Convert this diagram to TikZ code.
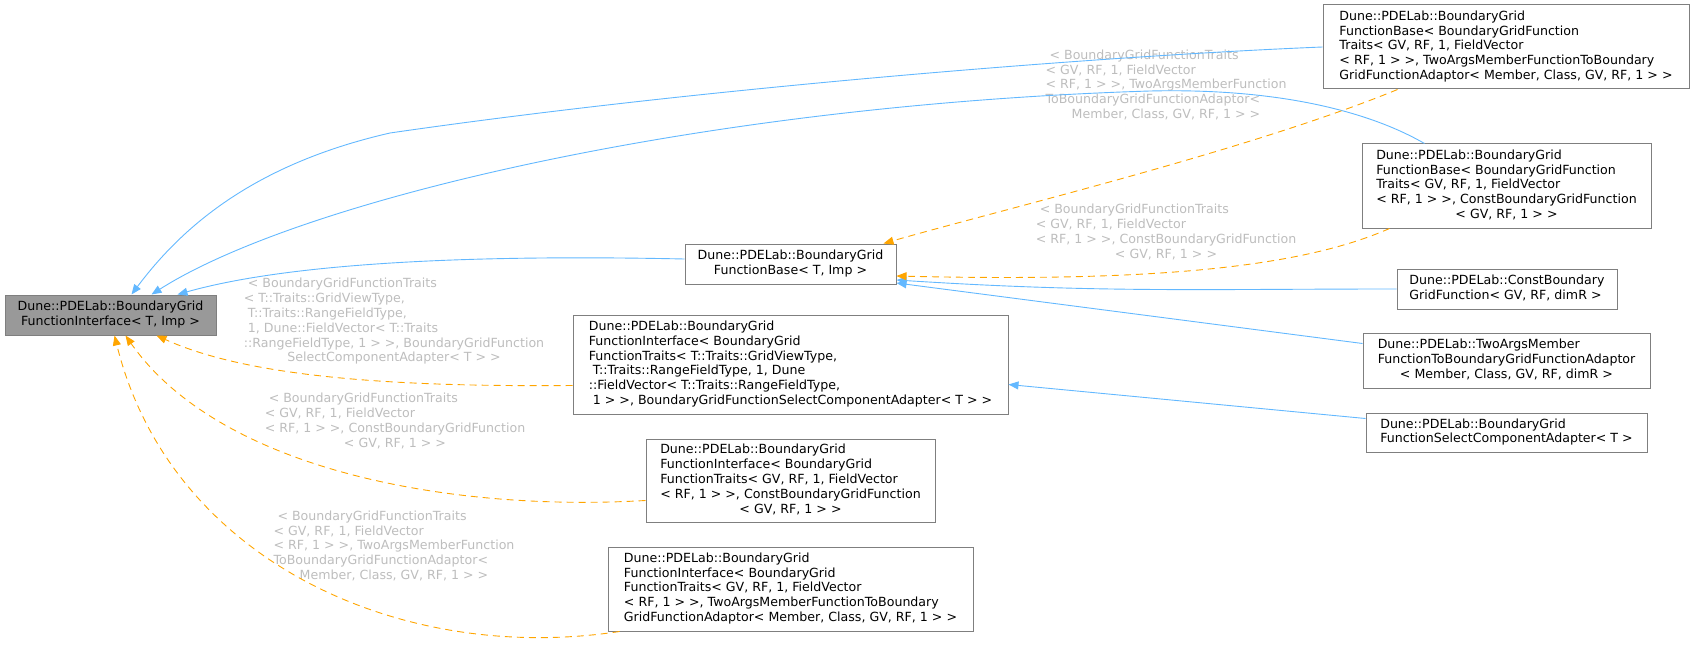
\documentclass[tikz,border=0pt]{standalone}
\usepackage{fontspec}
\setmainfont{DejaVu Sans}
\usetikzlibrary{arrows.meta,calc}
\definecolor{edgeblue}{HTML}{63B8FF}
\definecolor{edgeorange}{HTML}{FFA500}
\definecolor{boxgray}{HTML}{7F7F7F}
\definecolor{labgray}{HTML}{BDBDBD}
\definecolor{fillgray}{HTML}{999999}
\newcommand{\lst}[1]{\begin{tabular}{@{}l@{}}#1\end{tabular}}
\newcommand{\cst}[1]{\begin{tabular}{@{}c@{}}#1\end{tabular}}
\newcommand{\cl}[1]{\multicolumn{1}{@{}c@{}}{#1}}
\begin{document}
\begin{tikzpicture}[x=1pt,y=-1pt,
  every node/.style={font=\fontsize{12.6}{14.8}\selectfont},
  box/.style={draw=boxgray,line width=1pt,fill=white,inner sep=0pt,text=black},
  lab/.style={text=labgray,inner sep=0pt},
  inh/.style={draw=edgeblue,line width=0.9pt,-{Triangle[length=10pt,width=8pt]}},
  tmpl/.style={draw=edgeorange,line width=0.9pt,dash pattern=on 7pt off 5pt,-{Triangle[length=10pt,width=8pt]}}]
\useasboundingbox (0,0) rectangle (1695,650);
\node[box,fill=fillgray,minimum width=211pt,minimum height=40pt] (A) at (110.5,315) {\cst{Dune::PDELab::BoundaryGrid\\FunctionInterface< T, Imp >}};
\node[box,minimum width=211pt,minimum height=40pt] (B) at (790.5,264) {\cst{Dune::PDELab::BoundaryGrid\\FunctionBase< T, Imp >}};
\node[box,minimum width=366pt,minimum height=84pt] (C) at (1506,47) {\lst{Dune::PDELab::BoundaryGrid\\FunctionBase< BoundaryGridFunction\\Traits< GV, RF, 1, FieldVector\\< RF, 1 > >, TwoArgsMemberFunctionToBoundary\\GridFunctionAdaptor< Member, Class, GV, RF, 1 > >}};
\node[box,minimum width=289pt,minimum height=84pt] (D) at (1506.5,186) {\lst{Dune::PDELab::BoundaryGrid\\FunctionBase< BoundaryGridFunction\\Traits< GV, RF, 1, FieldVector\\< RF, 1 > >, ConstBoundaryGridFunction\\\cl{< GV, RF, 1 > >}}};
\node[box,minimum width=220pt,minimum height=40pt] (E) at (1507,289) {\lst{Dune::PDELab::ConstBoundary\\GridFunction< GV, RF, dimR >}};
\node[box,minimum width=287pt,minimum height=55pt] (F) at (1506.5,360.5) {\lst{Dune::PDELab::TwoArgsMember\\FunctionToBoundaryGridFunctionAdaptor\\\cl{< Member, Class, GV, RF, dimR >}}};
\node[box,minimum width=281pt,minimum height=39pt] (G) at (1506.5,432.5) {\lst{Dune::PDELab::BoundaryGrid\\FunctionSelectComponentAdapter< T >}};
\node[box,minimum width=435pt,minimum height=99pt] (H) at (790.5,364.5) {\lst{Dune::PDELab::BoundaryGrid\\FunctionInterface< BoundaryGrid\\FunctionTraits< T::Traits::GridViewType,\\\ T::Traits::RangeFieldType, 1, Dune\\::FieldVector< T::Traits::RangeFieldType,\\\ 1 > >, BoundaryGridFunctionSelectComponentAdapter< T > >}};
\node[box,minimum width=289pt,minimum height=83pt] (I) at (790.5,480.5) {\lst{Dune::PDELab::BoundaryGrid\\FunctionInterface< BoundaryGrid\\FunctionTraits< GV, RF, 1, FieldVector\\< RF, 1 > >, ConstBoundaryGridFunction\\\cl{< GV, RF, 1 > >}}};
\node[box,minimum width=365pt,minimum height=84pt] (J) at (790.5,589) {\lst{Dune::PDELab::BoundaryGrid\\FunctionInterface< BoundaryGrid\\FunctionTraits< GV, RF, 1, FieldVector\\< RF, 1 > >, TwoArgsMemberFunctionToBoundary\\GridFunctionAdaptor< Member, Class, GV, RF, 1 > >}};
% labels
\node[lab] (L1) at (1166,86) {\lst{\ < BoundaryGridFunctionTraits\\< GV, RF, 1, FieldVector\\< RF, 1 > >, TwoArgsMemberFunction\\ToBoundaryGridFunctionAdaptor<\\\cl{Member, Class, GV, RF, 1 > >}}};
\node[lab] (L2) at (1166,233) {\lst{\ < BoundaryGridFunctionTraits\\< GV, RF, 1, FieldVector\\< RF, 1 > >, ConstBoundaryGridFunction\\\cl{< GV, RF, 1 > >}}};
\node[lab] (L3) at (394,322) {\lst{\ < BoundaryGridFunctionTraits\\< T::Traits::GridViewType,\\\ T::Traits::RangeFieldType,\\\ 1, Dune::FieldVector< T::Traits\\::RangeFieldType, 1 > >, BoundaryGridFunction\\\cl{SelectComponentAdapter< T > >}}};
\node[lab] (L4) at (395,422) {\lst{\ < BoundaryGridFunctionTraits\\< GV, RF, 1, FieldVector\\< RF, 1 > >, ConstBoundaryGridFunction\\\cl{< GV, RF, 1 > >}}};
\node[lab] (L5) at (394,547) {\lst{\ < BoundaryGridFunctionTraits\\< GV, RF, 1, FieldVector\\< RF, 1 > >, TwoArgsMemberFunction\\ToBoundaryGridFunctionAdaptor<\\\cl{Member, Class, GV, RF, 1 > >}}};
% inheritance edges
\draw[inh] (C.west) .. controls (1100,56) and (700,88) .. (390,133) .. controls (250,165) and (180,230) .. ($(A.north west)+(127,0)$);
\draw[inh] ($(D.north west)+(63,0)$) .. controls (1370,112) and (1280,88) .. (1150,91) .. controls (700,105) and (300,200) .. ($(A.north west)+(147,0)$);
\draw[inh] ($(B.west)+(0,-5)$) .. controls (500,255) and (300,260) .. ($(A.north west)+(173,0)$);
\draw[inh] (E.west) .. controls (1200,289) and (1100,293) .. ($(B.east)+(0,16)$);
\draw[inh] ($(F.west)+(0,-17)$) -- ($(B.east)+(0,19)$);
\draw[inh] ($(G.west)+(0,-14)$) -- ($(H.east)+(0,20)$);
% template edges
\draw[tmpl] ($(H.west)+(0,21)$) .. controls (400,387) and (250,378) .. ($(A.south west)+(152,0)$);
\draw[tmpl] ($(I.west)+(0,20)$) .. controls (450,512) and (220,470) .. ($(A.south west)+(121,0)$);
\draw[tmpl] ($(J.south west)+(12,0)$) .. controls (400,665) and (170,560) .. ($(A.south west)+(110,0)$);
\draw[tmpl] ($(C.south west)+(75,0)$) .. controls (1250,150) and (1000,210) .. ($(B.north east)+(-13,0)$);
\draw[tmpl] ($(D.south west)+(28,0)$) .. controls (1300,268) and (1150,282) .. ($(B.east)+(0,12)$);
\end{tikzpicture}
\end{document}
